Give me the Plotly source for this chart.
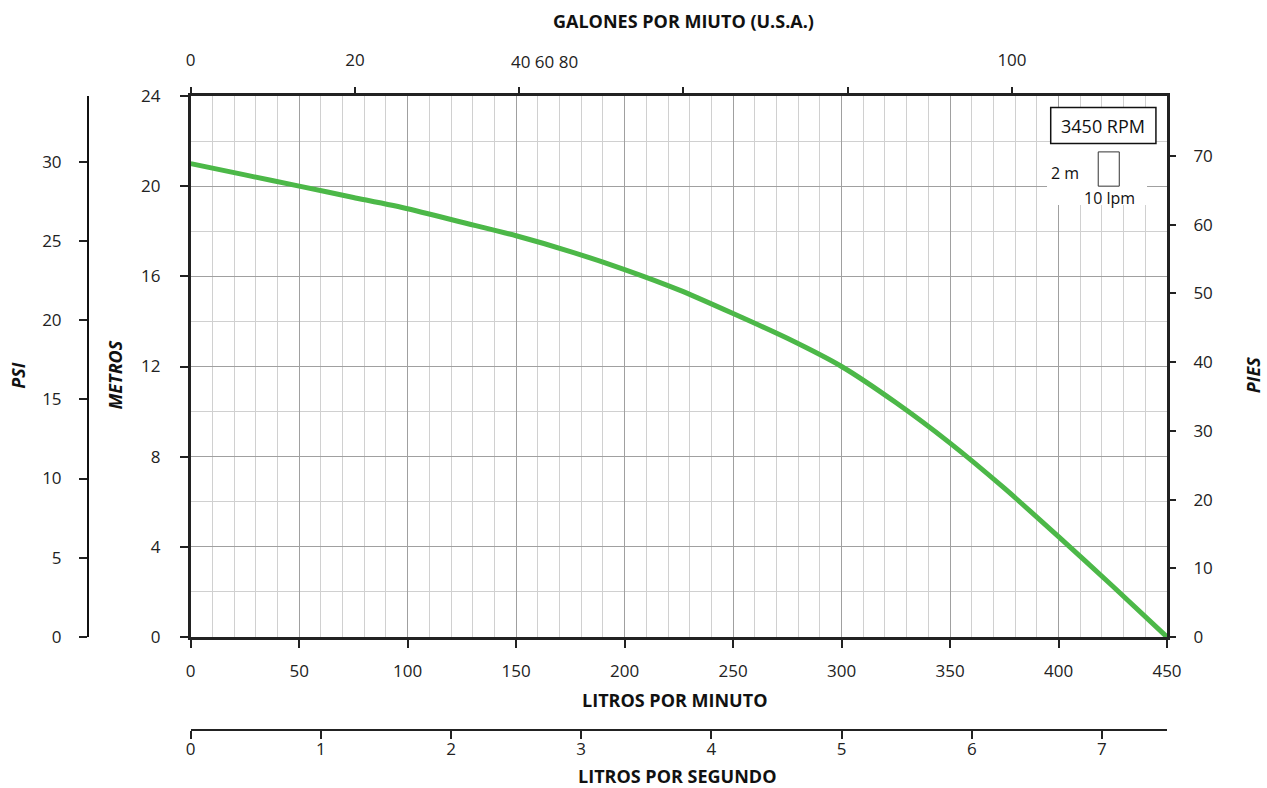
import plotly.graph_objects as go

# ---- data ----
lpm = [0, 25, 50, 75, 100, 125, 150, 175, 200, 225, 250, 275, 300, 325, 350, 375, 400, 425, 450]
metros = [21.0, 20.5, 20.0, 19.5, 19.0, 18.4, 17.8, 17.1, 16.3, 15.4, 14.35, 13.25, 12.0, 10.4, 8.6, 6.6, 4.45, 2.25, 0.0]

lpm_ticks = [0, 50, 100, 150, 200, 250, 300, 350, 400, 450]
m_ticks = [0, 4, 8, 12, 16, 20, 24]
gpm_ticks = [0, 20, 40, 60, 80, 100]
gpm_text = ["0", "20", "", "", "", "100"]
gpm_extra_label = "40 60 80"
psi_ticks = [0, 5, 10, 15, 20, 25, 30]
ft_ticks = [0, 10, 20, 30, 40, 50, 60, 70]
lps_ticks = [0, 1, 2, 3, 4, 5, 6, 7]

LPM_MAX = 450
M_MAX = 24
GPM_PER_LPM = 1 / 3.78541
PSI_PER_M = 1 / 0.70307
FT_PER_M = 3.28084

FONT = "Open Sans"
TICKFONT = dict(family=FONT, size=17, color="#222")
GREEN = "rgb(76,184,72)"
MAJOR = "#a0a0a0"
MINOR = "#d0d0d0"
FRAME = "#222222"

XDOM = [0.0952, 1.0]
YDOM = [0.1467, 1.0]

fig = go.Figure()
fig.add_trace(go.Scatter(
    x=lpm, y=metros, mode="lines",
    line=dict(color=GREEN, width=5, shape="spline", smoothing=0.6),
    hoverinfo="skip", showlegend=False,
))

fig.update_layout(
    width=1267, height=788,
    template="none",
    paper_bgcolor="white", plot_bgcolor="white",
    margin=dict(l=88, r=100, t=96, b=58),
    showlegend=False,
    font=dict(family=FONT, size=17, color="#222"),
    xaxis=dict(
        domain=XDOM, anchor="y", range=[0, LPM_MAX],
        tickvals=lpm_ticks, ticks="outside", ticklen=8, tickwidth=1.5, tickcolor="#222",
        tickfont=TICKFONT, ticklabelstandoff=9,
        showline=True, linewidth=2.5, linecolor=FRAME, mirror=True,
        showgrid=True, gridcolor=MAJOR, gridwidth=1, zeroline=False,
        minor=dict(dtick=10, showgrid=True, gridcolor=MINOR, gridwidth=1, ticks=""),
    ),
    xaxis2=dict(
        overlaying="x", side="top", anchor="y", range=[0, LPM_MAX * GPM_PER_LPM],
        tickvals=gpm_ticks, ticktext=gpm_text, ticks="outside", ticklen=8, tickwidth=1.5,
        tickcolor="#222", tickfont=TICKFONT, ticklabelstandoff=14,
        showline=False, showgrid=False, zeroline=False,
    ),
    xaxis3=dict(
        overlaying="x", anchor="free", position=0, side="bottom",
        domain=XDOM, range=[0, LPM_MAX / 60],
        tickvals=lps_ticks, ticks="outside", ticklen=8, tickwidth=1.5, tickcolor="#222",
        tickfont=TICKFONT, ticklabelstandoff=-4,
        showline=True, linewidth=1.5, linecolor="#222", showgrid=False, zeroline=False,
    ),
    yaxis=dict(
        domain=YDOM, anchor="x", range=[0, M_MAX],
        tickvals=m_ticks, ticks="outside", ticklen=8, tickwidth=1.5, tickcolor="#222",
        tickfont=TICKFONT, ticklabelstandoff=16,
        showline=True, linewidth=2.5, linecolor=FRAME, mirror=True,
        showgrid=True, gridcolor=MAJOR, gridwidth=1, zeroline=False,
        minor=dict(dtick=2, showgrid=True, gridcolor=MINOR, gridwidth=1, ticks=""),
    ),
    yaxis2=dict(
        overlaying="y", anchor="free", position=0, side="left",
        range=[0, M_MAX * PSI_PER_M],
        tickvals=psi_ticks, ticks="outside", ticklen=8, tickwidth=1.5, tickcolor="#222",
        tickfont=TICKFONT, ticklabelstandoff=14,
        showline=True, linewidth=2, linecolor="#111", showgrid=False, zeroline=False,
    ),
    yaxis3=dict(
        overlaying="y", anchor="x", side="right",
        range=[0, M_MAX * FT_PER_M],
        tickvals=ft_ticks, ticks="outside", ticklen=8, tickwidth=1.5, tickcolor="#222",
        tickfont=TICKFONT, ticklabelstandoff=14, tickprefix="\u00a0\u00a0",
        showline=False, showgrid=False, zeroline=False,
    ),
)

# invisible helper traces so every axis is bound to a trace
fig.add_trace(go.Scatter(x=[None], y=[None], xaxis="x2", yaxis="y", showlegend=False, hoverinfo="skip"))
fig.add_trace(go.Scatter(x=[None], y=[None], xaxis="x3", yaxis="y", showlegend=False, hoverinfo="skip"))
fig.add_trace(go.Scatter(x=[None], y=[None], xaxis="x", yaxis="y2", showlegend=False, hoverinfo="skip"))
fig.add_trace(go.Scatter(x=[None], y=[None], xaxis="x", yaxis="y3", showlegend=False, hoverinfo="skip"))

TITLEFONT = dict(family=FONT, size=18, color="#111", weight="bold")
ITFONT = dict(family=FONT, size=18, color="#111", weight="bold", style="italic")

annos = [
    dict(text="GALONES POR MIUTO (U.S.A.)", x=0.5519, y=1.118, font=TITLEFONT, textangle=0),
    dict(text="LITROS POR MINUTO", x=0.5437, y=0.0473, font=TITLEFONT, textangle=0),
    dict(text="LITROS POR SEGUNDO", x=0.5463, y=-0.072, font=TITLEFONT, textangle=0),
    dict(text="METROS", x=0.0246, y=0.56, font=ITFONT, textangle=-90),
    dict(text="PSI", x=-0.0650, y=0.56, font=ITFONT, textangle=-90),
    dict(text="PIES", x=1.0800, y=0.56, font=ITFONT, textangle=-90),
]
for a in annos:
    fig.add_annotation(xref="paper", yref="paper", xanchor="center", yanchor="middle",
                       showarrow=False, **a)

# odd combined top tick label
fig.add_annotation(text=gpm_extra_label, xref="x2", x=gpm_ticks[2], xshift=25,
                   yref="paper", y=1.0, yshift=35, yanchor="middle", showarrow=False,
                   font=TICKFONT)

# ---- key box (3450 RPM, scale) ----
fig.add_shape(type="rect", xref="x", yref="y", x0=394.7, x1=440.8, y0=19.16, y1=21.9,
              fillcolor="white", line=dict(width=0), layer="above")
fig.add_shape(type="rect", xref="x", yref="y", x0=396.4, x1=444.9, y0=21.89, y1=23.49,
              fillcolor="white", line=dict(color="#111", width=1.5), layer="above")
fig.add_annotation(text="3450 RPM", xref="x", yref="y", x=420.6, y=22.69, showarrow=False,
                   font=dict(family=FONT, size=18, color="#111"))
fig.add_shape(type="rect", xref="x", yref="y", x0=418.3, x1=428.0, y0=20.0, y1=21.52,
              fillcolor="white", line=dict(color="#333", width=1), layer="above")
fig.add_annotation(text="2 m", xref="x", yref="y", x=402.8, y=20.58, showarrow=False,
                   font=dict(family=FONT, size=16, color="#111"))
fig.add_annotation(text="10 lpm", xref="x", yref="y", x=423.6, y=19.47, showarrow=False,
                   font=dict(family=FONT, size=16, color="#111"))

# remove the default 8px page margin so the 1267x788 figure fills the window exactly
fig.write_html("out.html", config={"displayModeBar": False},
               post_script="document.body.style.margin='0px';")
